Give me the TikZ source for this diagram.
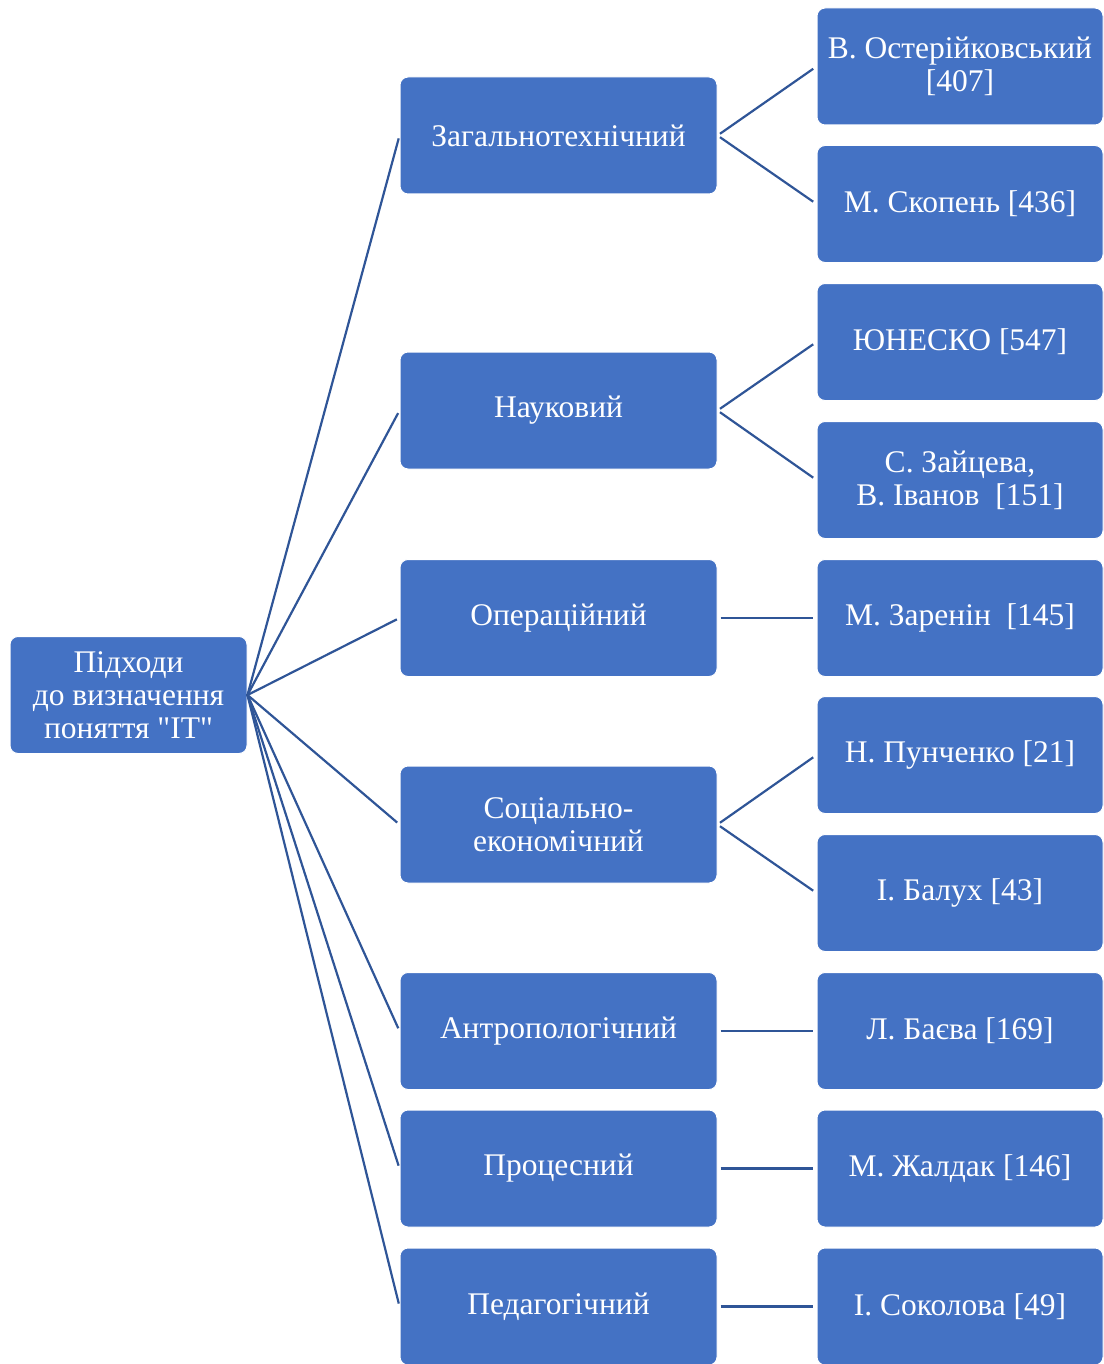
\documentclass[tikz,border=0pt]{standalone}
\usepackage{fontspec}
\setmainfont{Liberation Serif}[Ligatures=TeXOff]
\definecolor{boxblue}{HTML}{4472C4}
\definecolor{linkblue}{HTML}{2F5597}
\begin{document}
\begin{tikzpicture}[x=1pt,y=-1pt,
  box/.style={draw=white, line width=1pt, fill=boxblue, rounded corners=8pt,
    text=white, align=center, inner sep=0pt,
    font=\fontsize{31.5}{33}\selectfont},
  rootbox/.style={box, minimum width=237pt, minimum height=117pt},
  midbox/.style={box, minimum width=317pt, minimum height=117pt},
  leafbox/.style={box, minimum width=286pt, minimum height=117pt},
  conn/.style={draw=linkblue, line width=2.2pt}]
\useasboundingbox (0,0) rectangle (1103,1364);
\clip (0,0) rectangle (1103,1364);

% root
\node[rootbox] (root) at (128.5,695) {Підходи\\до визначення\\поняття "ІТ"};

% approaches
\node[midbox] (m1) at (558.5,135.5) {Загальнотехнічний};
\node[midbox] (m2) at (558.5,410.5) {Науковий};
\node[midbox] (m3) at (558.5,618) {Операційний};
\node[midbox] (m4) at (558.5,824.5) {Соціально-\\економічний};
\node[midbox] (m5) at (558.5,1031) {Антропологічний};
\node[midbox] (m6) at (558.5,1168.5) {Процесний};
\node[midbox] (m7) at (558.5,1306.5) {Педагогічний};

% authors
\node[leafbox] (l1) at (960,66.5) {В. Остерійковський\\{[407]}};
\node[leafbox] (l2) at (960,204) {М. Скопень [436]};
\node[leafbox] (l3) at (960,342) {ЮНЕСКО [547]};
\node[leafbox] (l4) at (960,480) {С. Зайцева,\\В. Іванов~~[151]};
\node[leafbox] (l5) at (960,618) {М. Заренін~~[145]};
\node[leafbox] (l6) at (960,755) {Н. Пунченко [21]};
\node[leafbox] (l7) at (960,893) {І. Балух [43]};
\node[leafbox] (l8) at (960,1031) {Л. Баєва [169]};
\node[leafbox] (l9) at (960,1168.5) {М. Жалдак [146]};
\node[leafbox] (l10) at (960,1306.5) {І. Соколова [49]};

% root to approaches
\foreach \m in {m1,m2,m3,m4,m5,m6,m7}
  \draw[conn, shorten <=-1pt, shorten >=3pt] (root.east) -- (\m.west);

% approaches to authors
\foreach \a/\b in {m1/l1,m1/l2,m2/l3,m2/l4,m3/l5,m4/l6,m4/l7,m5/l8,m6/l9,m7/l10}
  \draw[conn, shorten <=3pt, shorten >=4pt] (\a.east) -- (\b.west);
\end{tikzpicture}
\end{document}
